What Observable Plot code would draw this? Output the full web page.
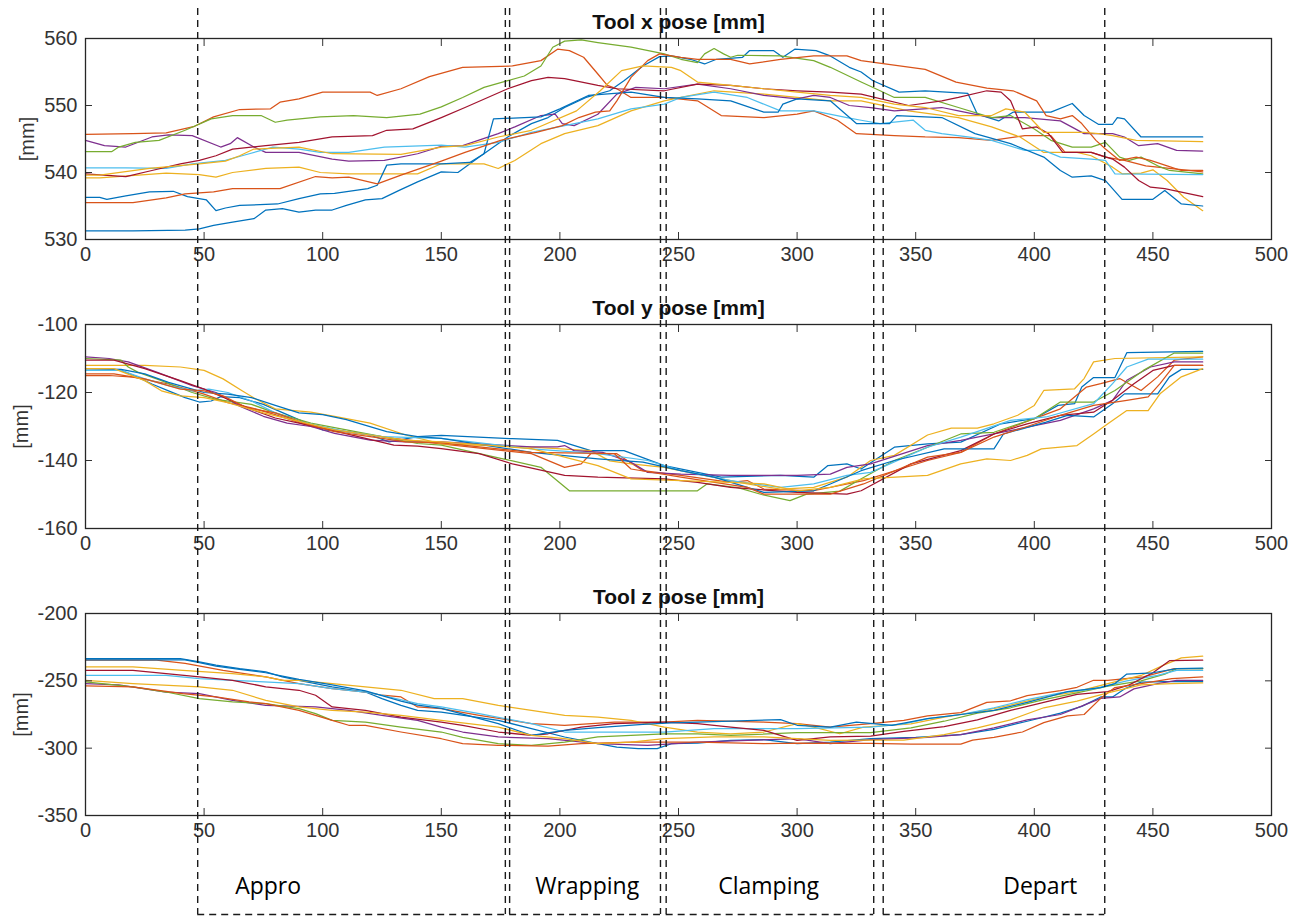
<!DOCTYPE html>
<html>
<head>
<meta charset="utf-8">
<script src="https://cdn.jsdelivr.net/npm/d3@7"></script>
<script src="https://cdn.jsdelivr.net/npm/@observablehq/plot@0.6"></script>
<style>
  html, body { margin: 0; padding: 0; background: #fff; }
  #fig { position: relative; width: 1308px; height: 920px; background: #fff; overflow: hidden; }
  #fig > div { position: absolute; left: 0; }
  #fig svg { display: block; background: transparent; }
</style>
</head>
<body>
<div id="fig"></div>
<script>
// ---------------- DATA ----------------
const xTicks = [0, 50, 100, 150, 200, 250, 300, 350, 400, 450, 500];
const panelTitles = ["Tool x pose [mm]", "Tool y pose [mm]", "Tool z pose [mm]"];
const yLabel = "[mm]";
const xPoseTicks = [530, 540, 550, 560];
const yPoseTicks = [-160, -140, -120, -100];
const zPoseTicks = [-350, -300, -250, -200];
const seriesNames = ["Blue 1", "Orange 1", "Yellow 1", "Purple", "Green", "Light blue", "Dark red", "Blue 2", "Orange 2", "Yellow 2"];

// Tool x pose: [sample, mm]
const xBlue1 = [[0,531.3],[20,531.3],[42,531.4],[48,531.6],[54,532.1],[62,532.6],[71,533.1],[76,534.4],[83,534.6],[90,534.1],[97,534.4],[104,534.4],[110,535.1],[118,535.9],[125,536.1],[132,537.3],[140,538.6],[150,540.1],[157,540],[166,542.3],[178,545.3],[188,547.3],[195,548.2],[202,549.7],[211,551.2],[221,552.2],[227,553.7],[235,555.9],[242,557.3],[247,557.4],[255,556.9],[261,556.2],[266,556.9],[277,557.2],[280,558.2],[290,558.2],[294,557.2],[299,558.4],[308,558.2],[314,557.4],[322,555.7],[327,555],[332,553.7],[343,552],[354,552.2],[372,551.8],[376,548.7],[385,547.7],[391,549],[407,549],[416,550.3],[421,548.5],[427,547.2],[433,547.2],[435,548.2],[438,548],[445,545.3],[471,545.3]];
const xOrange1 = [[0,545.7],[20,545.8],[34,545.9],[46,546.9],[54,548.3],[65,549.4],[78,549.5],[82,550.5],[90,551],[100,552],[120,552],[123,551.5],[133,552.5],[145,554.3],[159,555.7],[180,555.9],[192,556.7],[199,558.4],[204,558.2],[210,557.2],[216,554.7],[220,553],[224,552.5],[230,551.2],[244,551.2],[258,550.7],[268,548.5],[286,548.2],[300,548.7],[307,549.2],[317,547.8],[325,545.8],[341,545.5],[354,545.3],[368,545.2],[382,544.8],[396,545.5],[407,545.5],[413,543],[424,543],[430,542.3],[438,541.8],[447,541],[457,540.6],[471,540.1]];
const xYellow1 = [[0,539.2],[6,539.2],[34,539.9],[48,539.7],[55,539.3],[62,540],[76,540.6],[90,540.8],[99,540],[111,539.8],[140,539.8],[150,541.3],[168,541.3],[174,540.6],[181,541.8],[192,544.3],[202,545.8],[216,547],[230,549.2],[244,550.7],[251,551.2],[265,552.2],[286,551.7],[300,551.2],[314,550.7],[327,550.7],[347,549.2],[368,548.2],[382,546.8],[394,545.3],[404,543],[418,543],[424,542.5],[433,540.8],[437,539.8],[445,539.9],[450,540.4],[456,538.8],[463,536.3],[471,534.3]];
const xPurple = [[0,544.8],[8,544],[17,543.8],[28,545.3],[35,545.6],[45,545.5],[57,543.8],[61,544.3],[64,545.2],[71,543.8],[76,543],[90,543],[104,542],[111,541.7],[126,541.8],[140,542.8],[150,543.9],[159,544],[174,545.8],[181,546.8],[192,548.5],[198,548.7],[201,547.3],[206,547],[216,548.7],[224,551.7],[232,552.7],[244,552.5],[258,553.2],[272,552.5],[286,551.5],[300,551],[307,551.5],[314,551.2],[322,550],[331,549.7],[341,549.2],[361,549.7],[368,549.2],[382,548.2],[396,548.2],[411,547.7],[421,545.8],[433,545.8],[438,545.3],[444,544],[452,544.3],[460,543.3],[471,543.2]];
const xGreen = [[0,543.1],[11,543.1],[14,543.8],[21,544.5],[31,544.8],[42,546.3],[53,548],[62,548.5],[74,548.5],[80,547.5],[85,547.8],[99,548.3],[113,548.5],[127,548.2],[141,548.7],[150,549.8],[159,551.2],[168,552.7],[178,553.7],[185,554.4],[192,555.9],[197,558.7],[202,559.6],[209,559.8],[216,559.4],[230,558.7],[244,557.7],[251,556.9],[258,556.4],[261,557.7],[265,558.5],[269,557.7],[272,557.2],[275,557.5],[293,557.4],[307,556.7],[314,555.7],[327,553.5],[335,552.2],[341,551.2],[354,551.2],[368,549.7],[382,548.2],[390,548.5],[400,546.5],[407,544.8],[416,543.8],[424,543.8],[430,544.5],[436,542.3],[440,541.8],[445,542.3],[452,541],[457,540.3],[471,539.8]];
const xLightBlue = [[0,540.7],[17,540.7],[34,540.6],[45,541.3],[59,541.8],[66,542.5],[79,543.8],[90,543.5],[99,543],[111,543],[126,543.8],[150,544.1],[160,543.8],[174,544.5],[188,546],[202,547],[216,548],[230,549.5],[244,550.2],[251,551.2],[265,552],[279,551.2],[293,549.2],[307,549.2],[321,548.2],[327,547.8],[335,547.3],[349,547.8],[354,546.3],[361,545.8],[372,545.3],[382,544.8],[396,543.3],[404,543.3],[411,542.3],[424,542],[430,541.8],[434,539.8],[471,539.7]];
const xDarkRed = [[0,539.8],[17,539.4],[28,540.3],[40,541.3],[48,541.8],[55,542.5],[62,543.5],[76,544],[90,544.5],[104,545.3],[121,545.5],[127,546.3],[138,546.5],[150,548.2],[160,549.7],[178,552.5],[188,553.7],[195,554.2],[202,554],[216,553],[224,552.5],[244,552.2],[258,553.2],[272,553],[286,552.5],[300,552.2],[314,552],[327,551.7],[347,550],[361,550.7],[368,551.2],[380,552.2],[386,552],[390,550.7],[395,546.5],[401,546.8],[406,545.8],[412,543],[424,543],[433,542],[438,540.8],[444,538.8],[449,537.8],[455,537.6],[471,536.4]];
const xBlue2 = [[0,536.3],[6,536.3],[9,536],[17,536.5],[27,537.1],[37,537.2],[43,536.4],[51,535.9],[55,534.3],[59,534.7],[65,535.1],[81,535.3],[90,536.1],[99,536.8],[105,536.9],[119,537.6],[123,538.1],[127,541.1],[133,541.3],[150,541.3],[162,541.5],[168,542.8],[172,548],[192,548.3],[200,549.5],[212,551.5],[230,552],[244,551.2],[258,551],[272,550.7],[286,549],[292,549],[294,550.2],[300,551],[314,550.7],[325,547.3],[339,547.3],[342,548.5],[361,548.2],[375,545.8],[390,544.3],[404,542.3],[411,540.3],[416,539.3],[424,539.5],[430,538.8],[437,536],[450,536],[455,537.3],[462,535.3],[471,535]];
const xOrange2 = [[0,535.5],[20,535.5],[34,536.2],[42,536.8],[54,537.1],[62,537.6],[82,537.6],[97,539.4],[104,539.2],[111,539.3],[123,538.3],[133,539.6],[150,541.7],[160,543],[175,544.8],[190,546],[201,547],[208,548.2],[215,549],[221,549.2],[224,550.7],[230,554.2],[237,556.7],[242,557.7],[251,557.2],[258,556.9],[272,556.9],[280,556.2],[293,556.9],[307,557.4],[321,557.4],[327,556.7],[354,555.4],[367,553.5],[380,552.6],[391,552.2],[401,550.7],[405,548.5],[411,548],[416,548.5],[420,547.3],[426,544.8],[430,543.5],[436,541.8],[443,542.3],[449,541.8],[456,541],[462,540.3],[471,540.3]];
const xYellow2 = [[0,539.6],[6,539.6],[27,540.6],[48,541.3],[59,541.7],[65,542.5],[71,543.5],[90,543.8],[104,542.8],[133,542.7],[150,543.8],[160,544],[174,545.3],[188,546.3],[207,549.2],[217,552.2],[226,555.2],[235,555.9],[247,555.7],[251,555.2],[258,553.5],[272,553],[286,552.5],[300,552],[314,551.5],[327,551.2],[341,550.2],[354,549.7],[368,548.5],[382,548.5],[388,549.5],[396,549],[404,546],[421,546],[427,545.8],[433,545.5],[443,544.8],[471,544.6]];

// Tool y pose
const yBlue1 = [[0,-113.5],[15,-113.5],[22,-115.5],[28,-117.5],[35,-119.5],[42,-121.5],[48,-122.8],[53,-122.5],[57,-121.2],[65,-121.5],[75,-123.5],[85,-126.5],[95,-129.5],[100,-131],[110,-131.5],[120,-132.5],[128,-134.5],[140,-133],[150,-132.6],[180,-133.6],[199,-134.1],[213,-137.1],[227,-137.1],[244,-141.5],[258,-143.5],[268,-144.9],[293,-144.4],[307,-144.9],[313,-141.5],[321,-141],[327,-142.5],[341,-136.1],[355,-135.1],[369,-134.6],[386,-129.2],[400,-127.7],[410,-123.8],[417,-123.3],[420,-118.4],[425,-115.6],[434,-115.6],[439,-108.3],[471,-107.9]];
const yOrange1 = [[0,-115],[10,-115],[20,-115.5],[35,-117.5],[50,-120.5],[60,-123],[70,-124.5],[80,-126.5],[95,-130],[110,-131.5],[130,-133.5],[150,-135.1],[188,-138],[202,-142],[209,-141],[213,-138],[224,-138],[235,-143],[251,-144.4],[272,-146.4],[279,-145.9],[286,-148.4],[307,-148.9],[328,-145.9],[355,-140],[369,-137.6],[383,-132.2],[400,-127.7],[411,-124.8],[422,-118.4],[428,-117.4],[436,-115.9],[445,-119.4],[452,-115.4],[459,-110.5],[471,-109.5]];
const yYellow1 = [[0,-112],[25,-112],[40,-112.5],[50,-113.5],[58,-116],[66,-119.5],[72,-122],[80,-124.8],[95,-125.8],[105,-127],[120,-129],[135,-132.5],[150,-135.1],[188,-136.1],[213,-137.1],[221,-140.1],[230,-141],[244,-142],[258,-144],[279,-146.9],[293,-148.4],[307,-147.9],[321,-144.9],[331,-140],[341,-138.5],[355,-132.5],[365,-130.5],[376,-130.5],[383,-129.2],[393,-126.7],[400,-123.8],[404,-119.4],[417,-118.9],[421,-115.9],[425,-111],[434,-110],[471,-109.5]];
const yPurple = [[0,-109.5],[10,-110],[18,-111],[30,-114],[45,-118],[55,-120],[65,-124],[75,-127],[85,-129],[95,-130],[105,-132],[120,-134],[135,-134.5],[150,-134.5],[188,-136],[199,-136],[202,-135.6],[206,-137.1],[218,-137.6],[230,-140.5],[237,-143.5],[251,-144],[272,-144.4],[300,-144.4],[314,-144],[321,-142],[331,-141],[355,-135.6],[369,-134.1],[397,-130.2],[411,-128.2],[425,-124.8],[433,-122.3],[439,-116.4],[449,-112.5],[459,-111],[471,-111]];
const yGreen = [[0,-110],[15,-110.5],[18,-112.5],[22,-114],[30,-116],[45,-120],[55,-122],[70,-123.5],[80,-126],[95,-129],[110,-131],[125,-133],[140,-135],[150,-135.5],[176,-139.5],[192,-142],[204,-148.9],[258,-148.9],[262,-146.9],[275,-148],[285,-150],[297,-151.8],[304,-149.9],[318,-149],[328,-145],[341,-140],[355,-136.1],[369,-132.2],[383,-131.7],[400,-127.7],[411,-122.8],[425,-122.8],[434,-119.4],[446,-113.5],[459,-108.4],[471,-108.4]];
const yLightBlue = [[0,-113.5],[15,-113.5],[25,-116],[35,-118],[45,-119.5],[52,-119],[60,-120],[70,-122.5],[80,-126],[90,-128.5],[100,-130],[110,-131.5],[125,-133],[150,-133.5],[188,-136.6],[216,-138],[237,-140],[251,-143],[272,-145.9],[293,-147.9],[307,-146.9],[321,-144.4],[331,-143.5],[355,-136.1],[369,-133.1],[390,-128.2],[405,-127.2],[425,-123.3],[433,-117.4],[439,-112.5],[448,-110.2],[471,-110.2]];
const yDarkRed = [[0,-110.5],[12,-110.5],[25,-113],[40,-116.5],[50,-119],[60,-122],[70,-125],[80,-127.5],[90,-129],[100,-130.5],[115,-133],[130,-135.5],[140,-135.8],[150,-136.5],[166,-138],[180,-141],[202,-144.4],[216,-144.9],[244,-145.4],[258,-146.4],[272,-147.9],[300,-149.4],[321,-149.9],[327,-148.9],[348,-141],[369,-137.1],[383,-132.2],[397,-129.2],[411,-126.7],[425,-125.8],[433,-122.3],[442,-117.4],[450,-113.5],[459,-112],[471,-112]];
const yBlue2 = [[0,-113],[15,-113.2],[25,-114.5],[35,-117],[45,-119],[50,-120],[60,-120.5],[70,-121.5],[80,-123.8],[90,-126],[100,-126.5],[110,-128],[127,-131.5],[140,-133],[150,-133.5],[188,-137.6],[216,-139.5],[235,-140.5],[251,-143],[265,-144.9],[279,-147.9],[286,-149.4],[307,-148.9],[314,-146.9],[327,-143],[341,-140],[362,-136.6],[383,-136.6],[387,-132.2],[405,-128.7],[414,-126.7],[425,-127.2],[433,-123.3],[438,-120.4],[452,-120.4],[457,-115.4],[462,-113.2],[471,-113.2]];
const yOrange2 = [[0,-114.5],[12,-114.5],[25,-116],[40,-119],[50,-119.5],[58,-121],[68,-124.5],[80,-126],[92,-129],[105,-131.5],[120,-133],[135,-134.5],[150,-134.8],[188,-137.6],[223,-138],[230,-142.5],[251,-144.9],[279,-147.9],[286,-149.9],[314,-149.9],[328,-146.9],[355,-139],[369,-137.6],[383,-133.1],[397,-130],[411,-126.7],[425,-123.8],[439,-122.3],[448,-121.3],[453,-117.4],[459,-112],[471,-112]];
const yYellow2 = [[0,-113],[12,-113],[25,-116.5],[32,-119.5],[40,-121],[50,-121.5],[60,-123],[75,-126],[90,-128.5],[105,-131],[120,-132.5],[135,-134],[150,-134.5],[188,-136.5],[216,-141.5],[230,-145.4],[251,-145.9],[272,-146.4],[286,-146.9],[300,-148.9],[314,-147.9],[328,-145.4],[355,-144.4],[369,-141],[380,-139.5],[390,-140],[397,-138.5],[403,-136.6],[418,-135.6],[425,-132.2],[431,-129.2],[439,-125.3],[448,-125.3],[453,-120.4],[462,-115.4],[471,-113]];

// Tool z pose
const zBlue1 = [[0,-233.5],[40,-233.5],[48,-236],[55,-238.4],[65,-241],[76,-243.4],[83,-247],[90,-249.6],[104,-254.5],[118,-258.3],[125,-263.2],[133,-268.2],[140,-272],[150,-273.2],[174,-279.3],[188,-285.5],[202,-291.7],[216,-296.7],[224,-299.2],[233,-300.4],[241,-300.4],[247,-296.7],[258,-296.2],[272,-294.2],[286,-293.7],[300,-296.7],[314,-295.5],[331,-293],[350,-292],[369,-290],[383,-286],[397,-280],[411,-274],[420,-269],[428,-262],[433,-262],[438,-256],[445,-251],[455,-250.5],[471,-250.5]];
const zOrange1 = [[0,-234.7],[30,-234.7],[42,-237],[58,-242.2],[76,-247],[90,-252],[104,-255.7],[118,-258.3],[125,-260.7],[133,-262],[140,-269.4],[150,-270.7],[166,-275.6],[188,-281.8],[202,-283],[223,-280.6],[244,-280.6],[258,-279.4],[286,-280.6],[300,-281.8],[314,-284.3],[331,-281.8],[345,-279.4],[355,-276],[369,-273.6],[380,-266],[390,-264.8],[397,-261],[411,-257.3],[418,-254.8],[425,-249.6],[431,-249.6],[446,-247],[459,-240.9],[471,-240.9]];
const zYellow1 = [[0,-239.7],[20,-239.7],[41,-242.2],[62,-244.6],[76,-247],[83,-249.6],[90,-249.6],[104,-252],[118,-254.5],[133,-257],[147,-263.2],[159,-263.2],[174,-268.2],[188,-271.9],[202,-275.6],[216,-276.9],[230,-279.3],[244,-284.3],[258,-288],[272,-289.3],[286,-288],[300,-281.8],[307,-284.3],[318,-289.3],[328,-284.3],[348,-282],[362,-277],[376,-273],[390,-268],[404,-262],[418,-258],[431,-252],[445,-246],[455,-238],[462,-233],[471,-231.7]];
const zPurple = [[0,-252],[14,-253],[34,-258.3],[48,-259.5],[62,-264.5],[76,-268.2],[97,-269.4],[111,-272],[125,-275.6],[140,-279.4],[150,-284.3],[159,-288],[174,-291.7],[195,-292.9],[216,-296.7],[237,-297.9],[258,-295.5],[279,-294.2],[300,-293],[314,-296.7],[331,-293.7],[355,-292],[369,-290],[383,-285],[397,-279],[411,-275],[421,-268],[428,-263],[436,-262],[442,-256],[452,-252],[460,-249.6],[471,-249.6]];
const zGreen = [[0,-250.8],[20,-254.5],[34,-258.3],[48,-263.2],[62,-265.7],[76,-267],[90,-270.7],[97,-274.4],[104,-279.4],[118,-280.6],[133,-284.3],[150,-288],[159,-292],[174,-296.7],[188,-297.9],[202,-295.5],[216,-291.7],[244,-289.3],[258,-289.3],[272,-290.5],[300,-288.5],[331,-288.5],[348,-285],[362,-280],[376,-274],[390,-270],[404,-264],[418,-259],[431,-254],[445,-250],[455,-245],[460,-241],[471,-241]];
const zLightBlue = [[0,-245.9],[34,-245.9],[48,-248.4],[62,-249.6],[90,-252],[104,-255.7],[118,-258.3],[125,-260.7],[140,-266.9],[150,-269.4],[166,-274.4],[188,-281.8],[202,-288],[223,-288],[244,-288],[265,-285.5],[300,-285.5],[331,-284.3],[345,-282],[355,-278],[369,-275],[383,-270],[397,-264],[411,-259],[425,-256],[439,-250],[452,-246],[460,-242.2],[471,-242.2]];
const zDarkRed = [[0,-242.2],[20,-242.2],[34,-244.6],[48,-247],[62,-249.6],[69,-252],[76,-254.5],[90,-257],[97,-260.7],[104,-269.4],[118,-271.9],[133,-276.9],[150,-280.6],[159,-283],[174,-288],[188,-290.5],[195,-289.3],[209,-284.3],[223,-281.8],[244,-280.6],[258,-281.8],[272,-284.3],[286,-286.8],[300,-294.2],[314,-291.7],[331,-291],[345,-287.5],[362,-284],[376,-279],[390,-272],[404,-266],[418,-260],[431,-258],[440,-253],[450,-244],[457,-235],[471,-234.7]];
const zBlue2 = [[0,-234.5],[42,-234.5],[48,-236.5],[55,-239],[65,-241.5],[76,-244],[83,-246.5],[90,-249],[104,-253],[118,-257.5],[125,-261],[133,-265],[140,-268],[150,-270.5],[174,-281.8],[188,-290.5],[202,-286.8],[216,-284.8],[235,-282.3],[247,-281.3],[258,-280.6],[272,-279.9],[293,-278.8],[300,-283],[314,-284.3],[325,-280.6],[340,-283],[355,-278],[369,-275],[383,-272],[397,-266],[414,-258],[428,-255],[434,-252],[439,-245],[450,-244],[460,-241],[471,-240.5]];
const zOrange2 = [[0,-253.7],[20,-254.5],[41,-259.5],[55,-262],[69,-265.7],[76,-267],[90,-272],[104,-279.4],[111,-283],[118,-283],[133,-288],[150,-293],[159,-296.7],[174,-297.9],[195,-298.4],[209,-296.7],[230,-295.5],[258,-295.5],[286,-296.7],[300,-296.2],[331,-296.5],[348,-297],[369,-297],[374,-294],[383,-292],[395,-288],[404,-281],[414,-276],[421,-275],[428,-263],[434,-255],[445,-252],[458,-248.4],[471,-247.1]];
const zYellow2 = [[0,-249.6],[20,-252],[48,-254.5],[62,-257],[76,-264.5],[90,-269.4],[104,-272],[118,-273.2],[133,-275.6],[150,-279.4],[174,-284.3],[188,-290.5],[202,-293],[216,-296.7],[230,-295.5],[244,-293],[265,-291.7],[286,-291.7],[314,-294.2],[331,-294],[345,-294],[362,-290],[376,-285],[390,-279],[404,-270],[418,-265],[431,-259],[445,-253],[458,-252],[471,-251.6]];

// Task phases (boundaries in samples) and labels
const phaseStart = [47.3, 178.8, 244.8, 336.3];
const phaseEnd   = [177.0, 242.4, 332.3, 429.7];
const phaseNames = ["Appro", "Wrapping", "Clamping", "Depart"];
const phaseLabelX = [77, 211.5, 288, 402.5];

// ---------------- STYLE / LAYOUT ----------------
const colors = ["#0072BD", "#D95319", "#EDB120", "#7E2F8E", "#77AC30", "#4DBEEE", "#A2142F", "#0072BD", "#D95319", "#EDB120"];
const W = 1308, ML = 85, MR = 37;
const font = "'Liberation Sans', Arial, Helvetica, sans-serif";
const axisColor = "#333333";
const fmt = d => String(d);

function toRows(sets) {
  const rows = [];
  sets.forEach((pts, i) => pts.forEach(([t, v]) => rows.push({t, v, s: seriesNames[i]})));
  return rows;
}

function panel({title, sets, domain, ticks, top, mt, mb, labelOffset}) {
  const rows = toRows(sets);
  const chart = Plot.plot({
    width: W, height: 290,
    marginLeft: ML, marginRight: MR, marginTop: mt, marginBottom: mb,
    style: {fontFamily: font, fontSize: "20px", color: axisColor, background: "transparent", overflow: "visible"},
    x: {domain: [0, 500]},
    y: {domain},
    color: {domain: seriesNames, range: colors},
    marks: [
      Plot.lineY(rows, {x: "t", y: "v", z: "s", stroke: "s", strokeWidth: 1.25, curve: "linear"}),
      Plot.axisX({anchor: "bottom", ticks: xTicks, tickFormat: fmt, tickSize: -7, tickPadding: 14, label: null, stroke: axisColor, fill: axisColor, fontSize: 20}),
      Plot.axisX({anchor: "top", ticks: xTicks, tickSize: -7, label: null, stroke: axisColor, fill: "none"}),
      Plot.axisY({anchor: "left", ticks, tickFormat: fmt, tickSize: -7, tickPadding: 15, label: yLabel, labelAnchor: "center", labelArrow: "none", labelOffset, stroke: axisColor, fill: axisColor, fontSize: 20}),
      Plot.axisY({anchor: "right", ticks, tickSize: -7, label: null, stroke: axisColor, fill: "none"}),
      Plot.frame({stroke: "#262626", strokeWidth: 1.3}),
      Plot.text([title], {frameAnchor: "top", lineAnchor: "middle", dy: -16, text: d => d, fontWeight: "bold", fontSize: 21, fill: "#111"})
    ]
  });
  const holder = document.createElement("div");
  holder.style.top = top + "px";
  holder.appendChild(chart);
  return holder;
}

const fig = document.getElementById("fig");
fig.appendChild(panel({title: panelTitles[0], sets: [xBlue1, xOrange1, xYellow1, xPurple, xGreen, xLightBlue, xDarkRed, xBlue2, xOrange2, xYellow2], domain: [530, 560], ticks: xPoseTicks, top: 0, mt: 38, mb: 51, labelOffset: 66}));
fig.appendChild(panel({title: panelTitles[1], sets: [yBlue1, yOrange1, yYellow1, yPurple, yGreen, yLightBlue, yDarkRed, yBlue2, yOrange2, yYellow2], domain: [-160, -100], ticks: yPoseTicks, top: 290, mt: 34, mb: 52, labelOffset: 72}));
fig.appendChild(panel({title: panelTitles[2], sets: [zBlue1, zOrange1, zYellow1, zPurple, zGreen, zLightBlue, zDarkRed, zBlue2, zOrange2, zYellow2], domain: [-350, -200], ticks: zPoseTicks, top: 580, mt: 33, mb: 55, labelOffset: 72}));

// Overlay: phase boundaries spanning the whole figure, plus phase boxes and labels
const boundaryTop = 8, boxBottom = 914, labelY = 886;
const bounds = phaseStart.flatMap((s, i) => [s, phaseEnd[i]]);
const phases = phaseNames.map((name, i) => ({name, start: phaseStart[i], end: phaseEnd[i], lx: phaseLabelX[i]}));
const overlay = Plot.plot({
  width: W, height: 920,
  marginLeft: ML, marginRight: MR, marginTop: 0, marginBottom: 0,
  style: {background: "transparent", overflow: "visible"},
  x: {domain: [0, 500], axis: null},
  y: {domain: [0, 920], range: [0, 920], axis: null},
  marks: [
    Plot.ruleX(bounds, {x: d => d, y1: boundaryTop, y2: boxBottom, stroke: "#1a1a1a", strokeWidth: 1.4, strokeDasharray: "7,5"}),
    Plot.ruleY(phases, {x1: "start", x2: "end", y: boxBottom, stroke: "#1a1a1a", strokeWidth: 1.4, strokeDasharray: "7,5"}),
    Plot.text(phases, {x: "lx", y: labelY, text: "name", fontSize: 23, fontFamily: "'Open Sans', 'Noto Sans', sans-serif", fill: "#000", textAnchor: "middle", lineAnchor: "middle"})
  ]
});
const oh = document.createElement("div");
oh.style.top = "0px";
oh.style.pointerEvents = "none";
oh.appendChild(overlay);
fig.appendChild(oh);
</script>
</body>
</html>
